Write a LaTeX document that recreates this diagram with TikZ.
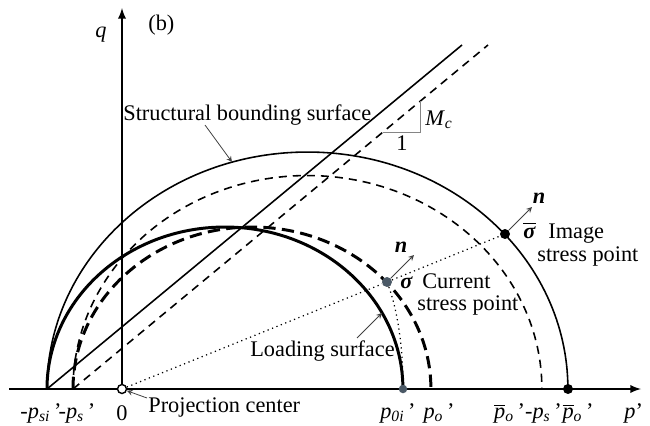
\documentclass[tikz,border=0pt]{standalone}
\usepackage{fontspec}
\setmainfont{Liberation Serif}
\usepackage{xcolor}
\definecolor{PointGray}{HTML}{4B5966}
\definecolor{TriGray}{HTML}{858585}
\newcommand{\pr}[1]{\textit{p}\textsubscript{\textit{#1}}\,'}
\newcommand{\pbar}[1]{$\overline{\mbox{\textit{p}}}$\textsubscript{\textit{#1}}\,'}
\newcommand{\bsig}{\textbf{\textit{σ}}}
\newcommand{\vecn}{\textbf{\textit{n}}}
\tikzset{
  bound/.style={line width=0.9pt},
  bounddash/.style={line width=0.9pt,dash pattern=on 4.6pt off 3.4pt},
  loadsurf/.style={line width=1.7pt},
  loaddash/.style={line width=1.7pt,dash pattern=on 7pt off 3.6pt},
  csl/.style={line width=0.9pt},
  dot/.style={circle,inner sep=0pt,minimum size=0.2cm},
  pointer/.style={line width=0.45pt,draw=black!75,-stealth},
  lbl/.style={anchor=base west},
  axlbl/.style={anchor=base}
}

\begin{document}
\begin{tikzpicture}[x=0.02cm, y=-0.02cm, every node/.style={font=\fontsize{12.7}{15}\selectfont, inner sep=0pt}]
  \useasboundingbox (0,0) rectangle (650,426);
  % axes
  \coordinate (pstart) at (9,389);
  \coordinate (pend) at (641,389);
  \coordinate (qbase) at (122,389);
  \coordinate (qend) at (122,8);
  \draw[line width=1.1pt,-latex] (pstart) -- (pend);
  \draw[line width=1.1pt,-latex] (qbase) -- (qend);
  \node[lbl] (qlbl) at (95,37) {\textit{q}};
  \node[lbl] (blbl) at (148,31) {(b)};

  % surfaces (radii in cm)
  \coordinate (psi) at (47,389);
  \coordinate (ps) at (73,389);
  \draw[bound] (psi) arc[start angle=180, end angle=0, x radius=5.21cm, y radius=4.74cm];
  \draw[bounddash] (ps) arc[start angle=180, end angle=0, x radius=4.69cm, y radius=4.27cm];
  \draw[loadsurf] (psi) arc[start angle=180, end angle=0, x radius=3.56cm, y radius=3.24cm];
  \draw[loaddash] (ps) arc[start angle=180, end angle=0, x radius=3.58cm, y radius=3.24cm];

  % critical state lines
  \coordinate (cslend) at (462,45);
  \coordinate (csldashend) at (488,45);
  \draw[csl] (psi) -- (cslend);
  \draw[csl,dash pattern=on 4.6pt off 3.4pt] (ps) -- (csldashend);
  \draw[TriGray,line width=0.5pt] (383,132) -- (420,132) -- (420,101);
  \node[lbl] (mclbl) at (425,125) {\textit{M}\textsubscript{\textit{c}}};
  \node[axlbl] (onelbl) at (402,150) {1};

  % stress points
  \node[circle,draw,fill=white,line width=0.8pt,minimum size=0.18cm] (O) at (122,389) {};
  \node[dot,fill=black] (sigbar) at (505,234) {};
  \node[dot,fill=PointGray] (sig) at (387,282) {};
  \node[dot,fill=PointGray,minimum size=0.17cm] (p0i) at (403,389) {};
  \node[dot,fill=black] (pobar) at (568,389) {};
  \draw[line width=0.7pt,dotted] (O) -- (sig);
  \draw[line width=0.7pt,dotted] (sig) -- (sigbar);
  \draw[line width=0.7pt,dotted] (sig) .. controls (398,312) and (403,350) .. (p0i);

  % normals
  \coordinate (nbartip) at (532,207);
  \coordinate (nsigtip) at (414,255);
  \draw[pointer] (sigbar) -- (nbartip);
  \draw[pointer] (sig) -- (nsigtip);
  \node (nbarlbl) at (539,198) {\vecn};
  \node (nsiglbl) at (401,247) {\vecn};

  % labels
  \node[lbl] (sigbarlbl) at (523,238) {$\overline{\mbox{\bsig}}$};
  \node[lbl] (imglbl) at (548,238) {Image};
  \node[lbl] (imgstress) at (537,261) {stress point};
  \node[lbl] (siglbl) at (400,288) {\bsig};
  \node[lbl] (curlbl) at (422,288) {Current};
  \node[lbl] (curstress) at (417,310) {stress point};
  \node[lbl] (loadlbl) at (250,356) {Loading surface};
  \node[lbl] (boundlbl) at (123,120) {Structural bounding surface};
  \node[lbl] (projlbl) at (148,412) {Projection center};
  \coordinate (loadtip) at (382,313);
  \coordinate (boundtip) at (232,162);
  \draw[pointer] (357,338) -- (loadtip);
  \draw[pointer] (205,125) -- (boundtip);
  \draw[pointer] (147,398) -- (O);

  % axis labels
  \node[axlbl] (psilbl) at (41,418) {-\pr{si}};
  \node[axlbl] (pslbl) at (77,418) {-\pr{s}};
  \node[axlbl] (zerolbl) at (122,420) {0};
  \node[axlbl] (p0ilbl) at (398,418) {\pr{0i}};
  \node[axlbl] (p0lbl) at (439,418) {\pr{o}};
  \node[axlbl] (pdifflbl) at (528,418) {\pbar{o}-\pr{s}};
  \node[axlbl] (pbarlbl) at (578,418) {\pbar{o}};
  \node[lbl] (plbl) at (624,418) {\textit{p}'};
\end{tikzpicture}
\end{document}
